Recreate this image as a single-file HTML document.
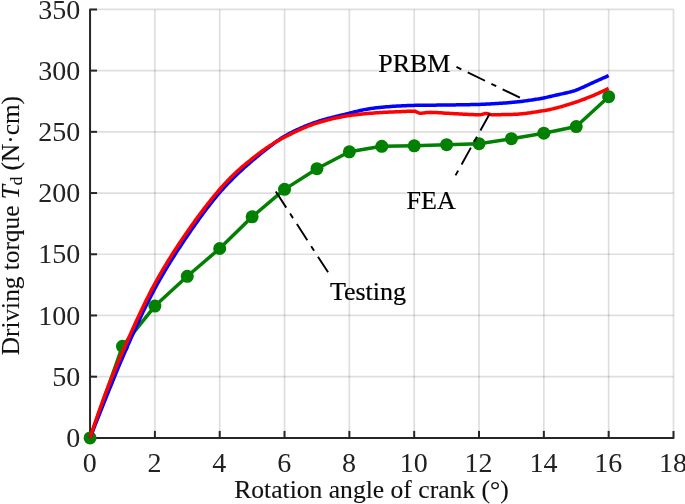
<!DOCTYPE html>
<html><head><meta charset="utf-8"><title>Driving torque vs rotation angle of crank</title>
<style>
html,body{margin:0;padding:0;background:#fff;}
svg{display:block;will-change:transform;opacity:0.999;}
text{font-family:"Liberation Serif",serif;fill:#000;}
.tk text{fill:#222;}
.lb text{fill:#111;stroke:#111;stroke-width:0.12px;}
.an text{fill:#000;stroke:#000;stroke-width:0.2px;}
</style></head><body>
<svg width="685" height="504" viewBox="0 0 685 504">
<rect width="685" height="504" fill="#fff"/>
<g stroke="#000" stroke-opacity="0.13" stroke-width="1.7" fill="none"><line x1="154.88" y1="9.4" x2="154.88" y2="437.9"/><line x1="219.71" y1="9.4" x2="219.71" y2="437.9"/><line x1="284.53" y1="9.4" x2="284.53" y2="437.9"/><line x1="349.36" y1="9.4" x2="349.36" y2="437.9"/><line x1="414.19" y1="9.4" x2="414.19" y2="437.9"/><line x1="479.02" y1="9.4" x2="479.02" y2="437.9"/><line x1="543.84" y1="9.4" x2="543.84" y2="437.9"/><line x1="608.67" y1="9.4" x2="608.67" y2="437.9"/><line x1="673.50" y1="9.4" x2="673.50" y2="437.9"/><line x1="90.05" y1="376.69" x2="673.5" y2="376.69"/><line x1="90.05" y1="315.47" x2="673.5" y2="315.47"/><line x1="90.05" y1="254.26" x2="673.5" y2="254.26"/><line x1="90.05" y1="193.04" x2="673.5" y2="193.04"/><line x1="90.05" y1="131.83" x2="673.5" y2="131.83"/><line x1="90.05" y1="70.61" x2="673.5" y2="70.61"/><line x1="90.05" y1="9.40" x2="673.5" y2="9.40"/></g>
<g stroke="#262626" stroke-width="2" fill="none" stroke-linejoin="round" stroke-linecap="butt"><path d="M97.05,9.4 L90.05,9.4 L90.05,437.9 L673.5,437.9 L673.5,430.9" /><line x1="90.05" y1="437.9" x2="90.05" y2="430.9"/><line x1="154.88" y1="437.9" x2="154.88" y2="430.9"/><line x1="219.71" y1="437.9" x2="219.71" y2="430.9"/><line x1="284.53" y1="437.9" x2="284.53" y2="430.9"/><line x1="349.36" y1="437.9" x2="349.36" y2="430.9"/><line x1="414.19" y1="437.9" x2="414.19" y2="430.9"/><line x1="479.02" y1="437.9" x2="479.02" y2="430.9"/><line x1="543.84" y1="437.9" x2="543.84" y2="430.9"/><line x1="608.67" y1="437.9" x2="608.67" y2="430.9"/><line x1="90.05" y1="437.90" x2="97.05" y2="437.90"/><line x1="90.05" y1="376.69" x2="97.05" y2="376.69"/><line x1="90.05" y1="315.47" x2="97.05" y2="315.47"/><line x1="90.05" y1="254.26" x2="97.05" y2="254.26"/><line x1="90.05" y1="193.04" x2="97.05" y2="193.04"/><line x1="90.05" y1="131.83" x2="97.05" y2="131.83"/><line x1="90.05" y1="70.61" x2="97.05" y2="70.61"/></g>
<path d="M90.05,437.90 L122.46,346.32 L154.88,306.04 L187.29,276.29 L219.71,248.50 L252.12,216.79 L284.53,189.37 L316.95,168.68 L349.36,151.78 L381.78,146.28 L414.19,145.79 L446.60,144.68 L479.02,143.70 L511.43,138.68 L543.84,133.18 L576.26,126.56 L608.67,96.69" fill="none" stroke="#008000" stroke-width="3.5" stroke-linejoin="round"/>
<g fill="#008000"><circle cx="90.05" cy="437.90" r="6.5"/><circle cx="122.46" cy="346.32" r="6.5"/><circle cx="154.88" cy="306.04" r="6.5"/><circle cx="187.29" cy="276.29" r="6.5"/><circle cx="219.71" cy="248.50" r="6.5"/><circle cx="252.12" cy="216.79" r="6.5"/><circle cx="284.53" cy="189.37" r="6.5"/><circle cx="316.95" cy="168.68" r="6.5"/><circle cx="349.36" cy="151.78" r="6.5"/><circle cx="381.78" cy="146.28" r="6.5"/><circle cx="414.19" cy="145.79" r="6.5"/><circle cx="446.60" cy="144.68" r="6.5"/><circle cx="479.02" cy="143.70" r="6.5"/><circle cx="511.43" cy="138.68" r="6.5"/><circle cx="543.84" cy="133.18" r="6.5"/><circle cx="576.26" cy="126.56" r="6.5"/><circle cx="608.67" cy="96.69" r="6.5"/></g>
<path d="M90.05,437.90 L91.35,434.58 L92.65,431.27 L93.95,427.97 L95.25,424.67 L96.55,421.39 L97.85,418.11 L99.15,414.84 L100.45,411.59 L101.75,408.34 L103.05,405.09 L104.35,401.86 L105.65,398.64 L106.95,395.42 L108.25,392.20 L109.55,388.97 L110.85,385.74 L112.15,382.51 L113.45,379.30 L114.75,376.10 L116.05,372.92 L117.35,369.77 L118.65,366.65 L119.95,363.57 L121.25,360.52 L122.55,357.52 L123.84,354.55 L125.14,351.58 L126.44,348.61 L127.74,345.65 L129.04,342.71 L130.34,339.77 L131.64,336.84 L132.94,333.93 L134.24,331.04 L135.54,328.16 L136.84,325.30 L138.14,322.46 L139.44,319.65 L140.74,316.86 L142.04,314.09 L143.34,311.36 L144.64,308.65 L145.94,305.97 L147.24,303.33 L148.54,300.72 L149.84,298.14 L151.14,295.61 L152.44,293.11 L153.74,290.65 L155.04,288.24 L156.34,285.86 L157.64,283.51 L158.94,281.19 L160.24,278.89 L161.54,276.62 L162.84,274.38 L164.14,272.16 L165.44,269.96 L166.74,267.79 L168.04,265.64 L169.34,263.51 L170.64,261.40 L171.94,259.32 L173.24,257.25 L174.54,255.20 L175.84,253.17 L177.14,251.15 L178.44,249.15 L179.74,247.17 L181.04,245.20 L182.34,243.24 L183.64,241.30 L184.94,239.37 L186.24,237.45 L187.54,235.54 L188.84,233.64 L190.13,231.74 L191.43,229.86 L192.73,227.99 L194.03,226.13 L195.33,224.29 L196.63,222.45 L197.93,220.63 L199.23,218.82 L200.53,217.02 L201.83,215.24 L203.13,213.48 L204.43,211.73 L205.73,209.99 L207.03,208.28 L208.33,206.58 L209.63,204.90 L210.93,203.24 L212.23,201.59 L213.53,199.97 L214.83,198.37 L216.13,196.79 L217.43,195.23 L218.73,193.69 L220.03,192.18 L221.33,190.69 L222.63,189.23 L223.93,187.80 L225.23,186.39 L226.53,185.01 L227.83,183.64 L229.13,182.30 L230.43,180.97 L231.73,179.66 L233.03,178.37 L234.33,177.08 L235.63,175.81 L236.93,174.55 L238.23,173.31 L239.53,172.08 L240.83,170.87 L242.13,169.67 L243.43,168.48 L244.73,167.31 L246.03,166.15 L247.33,165.00 L248.63,163.86 L249.93,162.73 L251.23,161.61 L252.53,160.50 L253.83,159.39 L255.13,158.30 L256.43,157.21 L257.72,156.14 L259.02,155.07 L260.32,154.01 L261.62,152.97 L262.92,151.93 L264.22,150.90 L265.52,149.89 L266.82,148.89 L268.12,147.90 L269.42,146.91 L270.72,145.92 L272.02,144.92 L273.32,143.93 L274.62,142.94 L275.92,141.97 L277.22,141.02 L278.52,140.09 L279.82,139.19 L281.12,138.32 L282.42,137.49 L283.72,136.70 L285.02,135.96 L286.32,135.24 L287.62,134.54 L288.92,133.84 L290.22,133.16 L291.52,132.49 L292.82,131.83 L294.12,131.18 L295.42,130.55 L296.72,129.93 L298.02,129.32 L299.32,128.72 L300.62,128.13 L301.92,127.56 L303.22,127.00 L304.52,126.45 L305.82,125.91 L307.12,125.39 L308.42,124.87 L309.72,124.37 L311.02,123.88 L312.32,123.40 L313.62,122.93 L314.92,122.48 L316.22,122.03 L317.52,121.60 L318.82,121.18 L320.12,120.77 L321.42,120.37 L322.72,119.99 L324.01,119.61 L325.31,119.24 L326.61,118.88 L327.91,118.52 L329.21,118.18 L330.51,117.83 L331.81,117.50 L333.11,117.17 L334.41,116.84 L335.71,116.52 L337.01,116.20 L338.31,115.89 L339.61,115.57 L340.91,115.26 L342.21,114.95 L343.51,114.64 L344.81,114.33 L346.11,114.01 L347.41,113.70 L348.71,113.38 L350.01,113.06 L351.31,112.73 L352.61,112.40 L353.91,112.07 L355.21,111.74 L356.51,111.41 L357.81,111.09 L359.11,110.77 L360.41,110.47 L361.71,110.18 L363.01,109.91 L364.31,109.65 L365.61,109.42 L366.91,109.20 L368.21,108.98 L369.51,108.77 L370.81,108.57 L372.11,108.37 L373.41,108.18 L374.71,108.00 L376.01,107.83 L377.31,107.67 L378.61,107.53 L379.91,107.39 L381.21,107.27 L382.51,107.16 L383.81,107.05 L385.11,106.95 L386.41,106.84 L387.71,106.74 L389.01,106.64 L390.30,106.55 L391.60,106.46 L392.90,106.36 L394.20,106.28 L395.50,106.19 L396.80,106.11 L398.10,106.03 L399.40,105.96 L400.70,105.89 L402.00,105.82 L403.30,105.75 L404.60,105.69 L405.90,105.64 L407.20,105.59 L408.50,105.54 L409.80,105.49 L411.10,105.46 L412.40,105.42 L413.70,105.39 L415.00,105.37 L416.30,105.35 L417.60,105.33 L418.90,105.31 L420.20,105.29 L421.50,105.27 L422.80,105.26 L424.10,105.24 L425.40,105.23 L426.70,105.22 L428.00,105.20 L429.30,105.19 L430.60,105.18 L431.90,105.17 L433.20,105.16 L434.50,105.15 L435.80,105.13 L437.10,105.12 L438.40,105.11 L439.70,105.10 L441.00,105.09 L442.30,105.07 L443.60,105.06 L444.90,105.04 L446.20,105.02 L447.50,105.00 L448.80,104.99 L450.10,104.97 L451.40,104.95 L452.70,104.93 L454.00,104.91 L455.30,104.89 L456.60,104.87 L457.89,104.85 L459.19,104.83 L460.49,104.81 L461.79,104.79 L463.09,104.76 L464.39,104.74 L465.69,104.72 L466.99,104.69 L468.29,104.67 L469.59,104.64 L470.89,104.61 L472.19,104.58 L473.49,104.55 L474.79,104.52 L476.09,104.48 L477.39,104.45 L478.69,104.41 L479.99,104.38 L481.29,104.33 L482.59,104.29 L483.89,104.24 L485.19,104.18 L486.49,104.12 L487.79,104.06 L489.09,104.00 L490.39,103.93 L491.69,103.86 L492.99,103.78 L494.29,103.71 L495.59,103.62 L496.89,103.54 L498.19,103.45 L499.49,103.37 L500.79,103.27 L502.09,103.18 L503.39,103.08 L504.69,102.99 L505.99,102.89 L507.29,102.78 L508.59,102.68 L509.89,102.57 L511.19,102.47 L512.49,102.35 L513.79,102.24 L515.09,102.11 L516.39,101.98 L517.69,101.84 L518.99,101.70 L520.29,101.55 L521.59,101.39 L522.89,101.23 L524.18,101.06 L525.48,100.88 L526.78,100.71 L528.08,100.52 L529.38,100.33 L530.68,100.14 L531.98,99.95 L533.28,99.75 L534.58,99.54 L535.88,99.33 L537.18,99.12 L538.48,98.91 L539.78,98.69 L541.08,98.46 L542.38,98.21 L543.68,97.95 L544.98,97.68 L546.28,97.40 L547.58,97.11 L548.88,96.82 L550.18,96.52 L551.48,96.21 L552.78,95.91 L554.08,95.61 L555.38,95.30 L556.68,95.01 L557.98,94.72 L559.28,94.43 L560.58,94.15 L561.88,93.87 L563.18,93.59 L564.48,93.31 L565.78,93.02 L567.08,92.72 L568.38,92.40 L569.68,92.08 L570.98,91.74 L572.28,91.37 L573.58,90.99 L574.88,90.55 L576.18,90.07 L577.48,89.56 L578.78,89.03 L580.08,88.50 L581.38,87.94 L582.68,87.37 L583.98,86.79 L585.28,86.19 L586.58,85.59 L587.88,84.98 L589.18,84.37 L590.47,83.77 L591.77,83.17 L593.07,82.58 L594.37,82.00 L595.67,81.42 L596.97,80.83 L598.27,80.25 L599.57,79.67 L600.87,79.09 L602.17,78.51 L603.47,77.94 L604.77,77.36 L606.07,76.78 L607.37,76.21 L608.67,75.63" fill="none" stroke="#0000ff" stroke-width="3.5" stroke-linejoin="round"/>
<path d="M90.05,437.90 L91.35,433.93 L92.65,430.01 L93.95,426.13 L95.25,422.29 L96.55,418.49 L97.85,414.74 L99.15,411.04 L100.45,407.38 L101.75,403.77 L103.05,400.21 L104.35,396.69 L105.65,393.23 L106.95,389.81 L108.25,386.45 L109.55,383.13 L110.85,379.86 L112.15,376.62 L113.45,373.43 L114.75,370.28 L116.05,367.16 L117.35,364.07 L118.65,361.01 L119.95,357.99 L121.25,354.99 L122.55,352.01 L123.84,349.05 L125.14,346.10 L126.44,343.15 L127.74,340.21 L129.04,337.28 L130.34,334.36 L131.64,331.46 L132.94,328.57 L134.24,325.70 L135.54,322.85 L136.84,320.01 L138.14,317.20 L139.44,314.41 L140.74,311.65 L142.04,308.91 L143.34,306.20 L144.64,303.52 L145.94,300.88 L147.24,298.26 L148.54,295.68 L149.84,293.13 L151.14,290.63 L152.44,288.16 L153.74,285.73 L155.04,283.34 L156.34,280.99 L157.64,278.67 L158.94,276.37 L160.24,274.11 L161.54,271.86 L162.84,269.65 L164.14,267.46 L165.44,265.29 L166.74,263.14 L168.04,261.02 L169.34,258.92 L170.64,256.84 L171.94,254.78 L173.24,252.74 L174.54,250.72 L175.84,248.72 L177.14,246.73 L178.44,244.76 L179.74,242.81 L181.04,240.87 L182.34,238.95 L183.64,237.04 L184.94,235.14 L186.24,233.25 L187.54,231.38 L188.84,229.52 L190.13,227.66 L191.43,225.82 L192.73,224.00 L194.03,222.18 L195.33,220.38 L196.63,218.59 L197.93,216.81 L199.23,215.04 L200.53,213.30 L201.83,211.56 L203.13,209.84 L204.43,208.14 L205.73,206.45 L207.03,204.77 L208.33,203.12 L209.63,201.48 L210.93,199.85 L212.23,198.25 L213.53,196.66 L214.83,195.09 L216.13,193.54 L217.43,192.01 L218.73,190.49 L220.03,189.00 L221.33,187.52 L222.63,186.07 L223.93,184.64 L225.23,183.23 L226.53,181.84 L227.83,180.47 L229.13,179.13 L230.43,177.80 L231.73,176.50 L233.03,175.23 L234.33,173.97 L235.63,172.74 L236.93,171.53 L238.23,170.35 L239.53,169.19 L240.83,168.05 L242.13,166.93 L243.43,165.82 L244.73,164.73 L246.03,163.66 L247.33,162.60 L248.63,161.55 L249.93,160.50 L251.23,159.47 L252.53,158.44 L253.83,157.42 L255.13,156.40 L256.43,155.39 L257.72,154.39 L259.02,153.40 L260.32,152.42 L261.62,151.45 L262.92,150.50 L264.22,149.57 L265.52,148.66 L266.82,147.77 L268.12,146.90 L269.42,146.05 L270.72,145.21 L272.02,144.39 L273.32,143.58 L274.62,142.78 L275.92,142.00 L277.22,141.23 L278.52,140.48 L279.82,139.74 L281.12,139.02 L282.42,138.32 L283.72,137.63 L285.02,136.97 L286.32,136.30 L287.62,135.64 L288.92,134.98 L290.22,134.33 L291.52,133.68 L292.82,133.04 L294.12,132.40 L295.42,131.77 L296.72,131.14 L298.02,130.53 L299.32,129.92 L300.62,129.32 L301.92,128.74 L303.22,128.16 L304.52,127.60 L305.82,127.05 L307.12,126.52 L308.42,126.00 L309.72,125.50 L311.02,125.01 L312.32,124.54 L313.62,124.09 L314.92,123.65 L316.22,123.24 L317.52,122.84 L318.82,122.45 L320.12,122.07 L321.42,121.70 L322.72,121.32 L324.01,120.96 L325.31,120.60 L326.61,120.25 L327.91,119.91 L329.21,119.57 L330.51,119.24 L331.81,118.92 L333.11,118.61 L334.41,118.31 L335.71,118.01 L337.01,117.73 L338.31,117.45 L339.61,117.19 L340.91,116.93 L342.21,116.69 L343.51,116.45 L344.81,116.23 L346.11,116.02 L347.41,115.82 L348.71,115.63 L350.01,115.46 L351.31,115.29 L352.61,115.12 L353.91,114.96 L355.21,114.81 L356.51,114.65 L357.81,114.51 L359.11,114.36 L360.41,114.22 L361.71,114.09 L363.01,113.96 L364.31,113.83 L365.61,113.70 L366.91,113.59 L368.21,113.47 L369.51,113.36 L370.81,113.25 L372.11,113.15 L373.41,113.05 L374.71,112.95 L376.01,112.86 L377.31,112.77 L378.61,112.68 L379.91,112.60 L381.21,112.52 L382.51,112.44 L383.81,112.37 L385.11,112.30 L386.41,112.24 L387.71,112.18 L389.01,112.12 L390.30,112.06 L391.60,112.01 L392.90,111.96 L394.20,111.90 L395.50,111.85 L396.80,111.80 L398.10,111.75 L399.40,111.70 L400.70,111.65 L402.00,111.59 L403.30,111.53 L404.60,111.47 L405.90,111.41 L407.20,111.34 L408.50,111.28 L409.80,111.23 L411.10,111.19 L412.40,111.15 L413.70,111.14 L415.00,111.25 L416.30,111.76 L417.60,112.44 L418.90,113.02 L420.20,113.22 L421.50,113.17 L422.80,113.07 L424.10,112.93 L425.40,112.77 L426.70,112.61 L428.00,112.48 L429.30,112.39 L430.60,112.36 L431.90,112.38 L433.20,112.41 L434.50,112.46 L435.80,112.53 L437.10,112.60 L438.40,112.68 L439.70,112.77 L441.00,112.86 L442.30,112.96 L443.60,113.04 L444.90,113.13 L446.20,113.20 L447.50,113.26 L448.80,113.33 L450.10,113.40 L451.40,113.48 L452.70,113.55 L454.00,113.63 L455.30,113.71 L456.60,113.79 L457.89,113.87 L459.19,113.94 L460.49,114.02 L461.79,114.10 L463.09,114.17 L464.39,114.24 L465.69,114.31 L466.99,114.37 L468.29,114.43 L469.59,114.48 L470.89,114.53 L472.19,114.58 L473.49,114.61 L474.79,114.64 L476.09,114.67 L477.39,114.68 L478.69,114.69 L479.99,114.64 L481.29,114.48 L482.59,114.25 L483.89,113.88 L485.19,113.56 L486.49,113.48 L487.79,113.70 L489.09,114.08 L490.39,114.46 L491.69,114.68 L492.99,114.69 L494.29,114.68 L495.59,114.68 L496.89,114.67 L498.19,114.66 L499.49,114.65 L500.79,114.63 L502.09,114.61 L503.39,114.59 L504.69,114.57 L505.99,114.55 L507.29,114.53 L508.59,114.50 L509.89,114.48 L511.19,114.45 L512.49,114.42 L513.79,114.37 L515.09,114.31 L516.39,114.23 L517.69,114.15 L518.99,114.05 L520.29,113.94 L521.59,113.81 L522.89,113.68 L524.18,113.54 L525.48,113.39 L526.78,113.23 L528.08,113.06 L529.38,112.89 L530.68,112.71 L531.98,112.52 L533.28,112.33 L534.58,112.13 L535.88,111.93 L537.18,111.73 L538.48,111.52 L539.78,111.31 L541.08,111.10 L542.38,110.89 L543.68,110.67 L544.98,110.46 L546.28,110.22 L547.58,109.98 L548.88,109.71 L550.18,109.44 L551.48,109.15 L552.78,108.85 L554.08,108.54 L555.38,108.21 L556.68,107.88 L557.98,107.54 L559.28,107.18 L560.58,106.82 L561.88,106.45 L563.18,106.07 L564.48,105.68 L565.78,105.29 L567.08,104.89 L568.38,104.49 L569.68,104.08 L570.98,103.67 L572.28,103.25 L573.58,102.83 L574.88,102.41 L576.18,101.98 L577.48,101.55 L578.78,101.11 L580.08,100.66 L581.38,100.20 L582.68,99.72 L583.98,99.24 L585.28,98.75 L586.58,98.24 L587.88,97.73 L589.18,97.21 L590.47,96.67 L591.77,96.13 L593.07,95.58 L594.37,95.02 L595.67,94.46 L596.97,93.88 L598.27,93.30 L599.57,92.71 L600.87,92.11 L602.17,91.50 L603.47,90.89 L604.77,90.27 L606.07,89.64 L607.37,89.01 L608.67,88.37" fill="none" stroke="#ff0000" stroke-width="3.5" stroke-linejoin="round"/>
<g stroke="#000" stroke-width="1.9" fill="none" stroke-dasharray="19.2,7.1,5.4,7.1"><line x1="519.9" y1="97.7" x2="456.2" y2="66.8"/><line x1="489.7" y1="113.7" x2="455.4" y2="175.6"/><line x1="275.8" y1="191.5" x2="328.1" y2="272.3"/></g>
<g class="tk" font-size="28"><text x="89.65" y="472.0" text-anchor="middle">0</text><text x="154.48" y="472.0" text-anchor="middle">2</text><text x="219.31" y="472.0" text-anchor="middle">4</text><text x="284.13" y="472.0" text-anchor="middle">6</text><text x="348.96" y="472.0" text-anchor="middle">8</text><text x="413.79" y="472.0" text-anchor="middle">10</text><text x="478.62" y="472.0" text-anchor="middle">12</text><text x="543.44" y="472.0" text-anchor="middle">14</text><text x="608.27" y="472.0" text-anchor="middle">16</text><text x="673.10" y="472.0" text-anchor="middle">18</text><text x="80.3" y="447.05" text-anchor="end">0</text><text x="80.3" y="385.84" text-anchor="end">50</text><text x="80.3" y="324.62" text-anchor="end">100</text><text x="80.3" y="263.41" text-anchor="end">150</text><text x="80.3" y="202.19" text-anchor="end">200</text><text x="80.3" y="140.98" text-anchor="end">250</text><text x="80.3" y="79.76" text-anchor="end">300</text><text x="80.3" y="18.55" text-anchor="end">350</text></g>
<g class="an" font-size="25.3"><text x="378.2" y="71.9" font-size="26">PRBM</text><text x="406.6" y="209.1" font-size="26">FEA</text><text x="329.9" y="300.4" font-size="26">Testing</text></g>
<g class="lb" font-size="25.3"><text x="371.5" y="498.2" font-size="25.6" text-anchor="middle">Rotation angle of crank (°)</text><text transform="translate(19.1,225.6) rotate(-90)" text-anchor="middle">Driving torque <tspan font-style="italic">T</tspan><tspan font-size="17" dy="2.8">d</tspan><tspan dy="-2.8"> (N·cm)</tspan></text></g>
</svg></body></html>
